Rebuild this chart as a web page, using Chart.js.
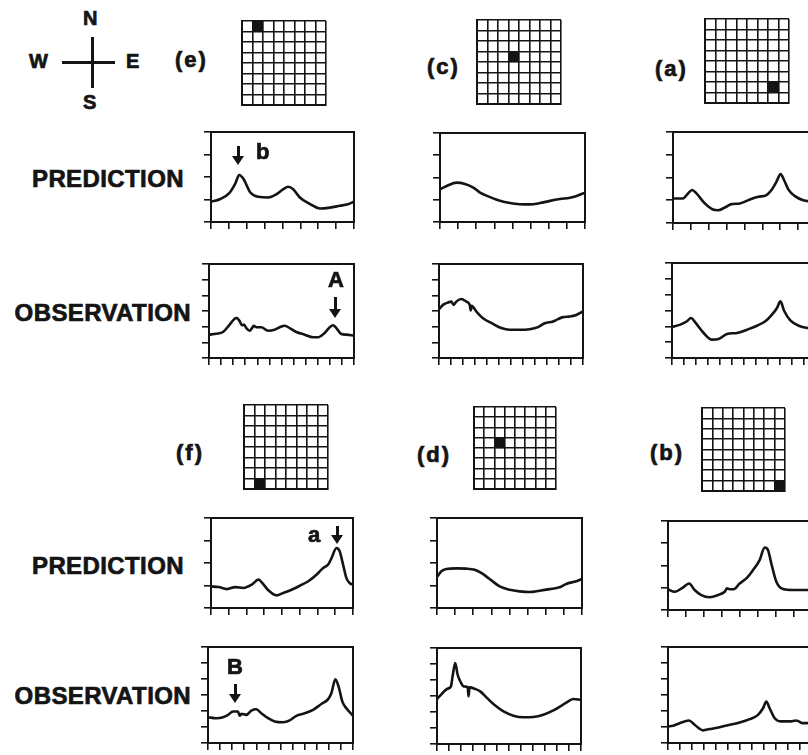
<!DOCTYPE html>
<html>
<head>
<meta charset="utf-8">
<script src="https://cdn.jsdelivr.net/npm/chart.js@4.4.1/dist/chart.umd.min.js"></script>
<style>
  html, body { margin: 0; padding: 0; background: #fff; }
  #page {
    position: relative; width: 808px; height: 755px; overflow: hidden;
    background: #fff; color: #141414;
    font-family: "Liberation Sans", Arial, sans-serif; font-weight: bold;
  }
  #page canvas { position: absolute; }
  .lbl { position: absolute; white-space: nowrap; line-height: 1; -webkit-text-stroke: 0.7px #141414; }
  .bar { position: absolute; background: #141414; }
</style>
</head>
<body>
<div id="page"></div>
<script>
// ================= DATA (x in tick units, y in tick units) =================
// prediction panels: 8 x-intervals, 4 y-intervals
// observation panels: 12 x-intervals, 6 y-intervals
const predE = [[0,0.91],[0.5,1.01],[1.05,1.31],[1.35,1.69],[1.58,2.09],[1.82,1.91],[2.2,1.31],[2.65,1.12],[3.2,1.09],[3.67,1.24],[4.05,1.46],[4.32,1.57],[4.6,1.46],[4.97,1.09],[5.5,0.82],[6.1,0.6],[6.65,0.64],[7.2,0.72],[7.66,0.79],[8,0.9]];
const obsE = [[0,1.49],[0.61,1.55],[1.16,1.66],[1.71,2.13],[2.12,2.51],[2.32,2.55],[2.54,2.34],[2.73,2.09],[2.9,2.13],[3.09,1.91],[3.37,1.74],[3.56,1.91],[3.7,2.06],[3.92,1.96],[4.33,1.96],[4.88,1.74],[5.43,1.81],[5.85,1.96],[6.26,2.06],[6.68,1.91],[7.23,1.66],[7.92,1.49],[8.61,1.32],[9.02,1.32],[9.57,1.6],[9.99,1.96],[10.26,2.09],[10.54,1.91],[10.95,1.53],[11.37,1.49],[12,1.43]];

const predC = [[0,1.47],[0.37,1.62],[0.92,1.77],[1.38,1.71],[1.84,1.55],[2.21,1.32],[2.76,1.12],[3.31,0.95],[3.86,0.85],[4.41,0.8],[4.96,0.79],[5.51,0.85],[6.07,0.95],[6.62,1.03],[7.17,1.09],[7.54,1.17],[8,1.32]];
const obsC = [[0,3.11],[0.33,3.39],[0.75,3.54],[1.03,3.6],[1.22,3.39],[1.44,3.6],[1.86,3.77],[2.28,3.6],[2.56,3.39],[2.64,3.03],[2.72,3.33],[3.11,2.97],[3.67,2.54],[4.5,2.18],[5.19,1.91],[5.89,1.8],[6.72,1.8],[7.56,1.84],[8.25,1.97],[8.81,2.22],[9.5,2.33],[9.92,2.48],[10.33,2.61],[10.89,2.65],[11.44,2.75],[12,2.97]];

const predA = [[0,1.08],[0.56,1.08],[0.84,1.3],[1.07,1.45],[1.31,1.3],[1.78,0.86],[2.24,0.59],[2.52,0.56],[2.9,0.68],[3.27,0.83],[3.74,0.86],[4.3,1.03],[4.77,1.15],[5.23,1.23],[5.51,1.45],[5.79,1.82],[6.02,2.15],[6.21,1.89],[6.45,1.48],[6.82,1.18],[7.29,1.0],[7.55,0.96],[8,0.95]];
const obsA = [[0,1.96],[0.69,2.11],[1.25,2.32],[1.58,2.53],[1.94,2.25],[2.64,1.58],[3.33,1.16],[3.89,1.2],[4.58,1.52],[5.42,1.58],[6.25,1.79],[7.08,2.04],[7.78,2.32],[8.33,2.74],[8.75,3.16],[9.03,3.58],[9.36,2.95],[9.86,2.38],[10.56,2.04],[11.36,1.89],[12,1.85]];

const predF = [[0,0.96],[0.43,0.93],[0.9,0.84],[1.36,0.93],[1.83,0.89],[2.3,1.04],[2.67,1.26],[2.86,1.14],[3.23,0.79],[3.7,0.56],[4.07,0.67],[4.54,0.81],[5.01,0.99],[5.48,1.19],[5.94,1.48],[6.32,1.78],[6.6,1.93],[6.79,2.22],[7.07,2.67],[7.25,2.52],[7.44,1.93],[7.63,1.33],[7.81,1.11],[8,1.04]];
const obsF = [[0,1.61],[0.69,1.55],[1.24,1.61],[1.66,1.76],[2.07,1.97],[2.48,1.97],[2.62,1.7],[2.76,1.82],[3.17,1.76],[3.59,2.03],[4.0,2.11],[4.41,1.86],[4.97,1.55],[5.52,1.35],[6.21,1.3],[6.76,1.41],[7.31,1.7],[8.0,1.86],[8.69,2.07],[9.38,2.44],[9.93,2.73],[10.21,3.11],[10.54,3.98],[10.81,3.52],[11.12,2.59],[11.45,2.17],[12,1.7]];

const predD = [[0,1.38],[0.24,1.63],[0.51,1.73],[1.07,1.76],[1.62,1.75],[2.08,1.7],[2.44,1.56],[2.9,1.29],[3.46,0.96],[4.01,0.81],[4.56,0.74],[5.11,0.71],[5.66,0.77],[6.21,0.84],[6.76,0.92],[7.13,1.07],[7.68,1.19],[8,1.29]];
const obsD = [[0,2.81],[0.42,3.15],[0.83,3.44],[1.16,3.6],[1.3,4.23],[1.52,5.06],[1.72,4.33],[1.94,3.92],[2.22,3.6],[2.55,3.56],[2.63,2.98],[2.71,3.54],[3.19,3.44],[3.6,3.29],[4.16,2.88],[4.85,2.4],[5.54,2.04],[6.37,1.77],[7.2,1.67],[8.03,1.69],[8.86,1.83],[9.7,2.1],[10.39,2.4],[10.94,2.67],[11.36,2.81],[12,2.77]];

const predB = [[0,0.93],[0.37,0.82],[0.83,1.01],[1.17,1.19],[1.48,0.9],[1.85,0.67],[2.31,0.57],[2.78,0.67],[3.15,0.82],[3.28,0.97],[3.46,0.93],[3.65,0.93],[3.98,1.19],[4.35,1.42],[4.72,1.79],[5.09,2.24],[5.37,2.81],[5.56,2.69],[5.74,2.09],[6.02,1.27],[6.39,0.94],[6.94,0.9],[7.69,0.9],[8,0.9]];
const obsB = [[0,1.04],[0.42,1.08],[0.97,1.24],[1.75,1.41],[2.22,1.14],[2.92,0.79],[3.47,0.87],[4.31,0.99],[5.14,1.14],[5.97,1.28],[6.81,1.49],[7.5,1.76],[7.92,2.17],[8.19,2.59],[8.47,2.17],[8.89,1.55],[9.44,1.35],[10.14,1.35],[10.69,1.41],[11.25,1.24],[11.64,1.24],[12,1.2]];

// grid icons: which cell of the 8x8 sensor grid is marked
const panelNames = ["(e)", "(c)", "(a)", "(f)", "(d)", "(b)"];
const cellCol = [1, 3, 6, 1, 2, 7];
const cellRow = [0, 3, 6, 7, 3, 7];

const rowLabels = ["PREDICTION", "OBSERVATION", "PREDICTION", "OBSERVATION"];

// ================= LAYOUT =================
const INK = "#141414";
const TICK = 7;
const PAD = 3;

// plot areas (left, top, width, height)
const PANELS = [
  { pts: predE, nx: 8,  ny: 4, x: 211, y: 132, w: 143, h: 90 },
  { pts: obsE,  nx: 12, ny: 6, x: 209, y: 264, w: 145, h: 94 },
  { pts: predC, nx: 8,  ny: 4, x: 440, y: 133, w: 145, h: 89 },
  { pts: obsC,  nx: 12, ny: 6, x: 439, y: 264, w: 144, h: 94 },
  { pts: predA, nx: 8,  ny: 4, x: 673, y: 132, w: 143, h: 91 },
  { pts: obsA,  nx: 12, ny: 6, x: 672, y: 263, w: 144, h: 95 },
  { pts: predF, nx: 8,  ny: 4, x: 211, y: 518, w: 142, h: 90 },
  { pts: obsF,  nx: 12, ny: 6, x: 208, y: 647, w: 145, h: 96 },
  { pts: predD, nx: 8,  ny: 4, x: 437, y: 518, w: 145, h: 90 },
  { pts: obsD,  nx: 12, ny: 6, x: 437, y: 648, w: 144, h: 96 },
  { pts: predB, nx: 8,  ny: 4, x: 668, y: 521, w: 144, h: 89 },
  { pts: obsB,  nx: 12, ny: 6, x: 668, y: 647, w: 144, h: 96 }
];

const ICONS = [
  { x: 242, y: 21,  s: 84 },
  { x: 477, y: 20,  s: 84 },
  { x: 705, y: 19,  s: 84 },
  { x: 244, y: 405, s: 84 },
  { x: 474, y: 407, s: 82 },
  { x: 702, y: 408, s: 83 }
];
// label boxes for (e) (c) (a) (f) (d) (b)
const NAME_POS = [[175, 49], [427, 56], [655, 58], [176, 442], [417, 444], [650, 442]];
// right edge + baseline of row labels
const ROW_POS = [[184, 187], [191, 321], [184, 574], [191, 704]];

const page = document.getElementById("page");

function addCanvas(left, top, w, h) {
  const c = document.createElement("canvas");
  c.width = w;
  c.height = h;
  c.style.left = left + "px";
  c.style.top = top + "px";
  c.style.width = w + "px";
  c.style.height = h + "px";
  page.appendChild(c);
  return c;
}

function addText(txt, left, top, size, extra) {
  const d = document.createElement("div");
  d.className = "lbl";
  d.textContent = txt;
  d.style.left = left + "px";
  d.style.top = top + "px";
  d.style.fontSize = size + "px";
  if (extra) Object.assign(d.style, extra);
  page.appendChild(d);
  return d;
}

function addBar(left, top, w, h) {
  const d = document.createElement("div");
  d.className = "bar";
  Object.assign(d.style, { left: left + "px", top: top + "px", width: w + "px", height: h + "px" });
  page.appendChild(d);
}

// down arrow: shaft + triangle head
function addArrow(cx, y1, y2) {
  addBar(cx - 1.5, y1, 3, y2 - y1 - 6);
  const h = document.createElement("div");
  Object.assign(h.style, {
    position: "absolute", left: (cx - 6) + "px", top: (y2 - 9) + "px", width: 0, height: 0,
    borderLeft: "6px solid transparent", borderRight: "6px solid transparent",
    borderTop: "9px solid " + INK
  });
  page.appendChild(h);
}

// frame round the plot area (top and right sides too)
const marco = {
  id: "marco",
  afterDraw(chart) {
    const { ctx, chartArea: a } = chart;
    ctx.save();
    ctx.strokeStyle = INK;
    ctx.lineWidth = 2;
    ctx.strokeRect(a.left, a.top, a.right - a.left, a.bottom - a.top);
    ctx.restore();
  }
};

function eje(max) {
  return {
    type: "linear", min: 0, max,
    ticks: { display: false, stepSize: 1 },
    grid: { drawOnChartArea: false, drawTicks: true, tickLength: TICK, color: INK, lineWidth: 1.6 },
    border: { display: true, color: INK, width: 2 }
  };
}

// ================= CURVE PANELS =================
PANELS.forEach(p => {
  const c = addCanvas(p.x - TICK, p.y - PAD, p.w + TICK + PAD, p.h + TICK + PAD);
  new Chart(c, {
    type: "line",
    data: {
      datasets: [{
        data: p.pts.map(([x, y]) => ({ x, y })),
        borderColor: INK,
        borderWidth: 2.6,
        pointRadius: 0,
        cubicInterpolationMode: "monotone",
        fill: false
      }]
    },
    options: {
      responsive: false,
      animation: false,
      devicePixelRatio: 1,
      layout: { autoPadding: false, padding: { top: PAD, right: PAD, left: 0, bottom: 0 } },
      plugins: { legend: { display: false }, tooltip: { enabled: false } },
      scales: { x: eje(p.nx), y: eje(p.ny) }
    },
    plugins: [marco]
  });
});

// ================= GRID ICONS =================
function ejeGrid(rev) {
  return {
    type: "linear", min: 0, max: 8, reverse: rev,
    ticks: { display: false, stepSize: 1 },
    grid: { color: INK, lineWidth: 1.6, drawTicks: false },
    border: { display: true, color: INK, width: 2 }
  };
}

ICONS.forEach((g, i) => {
  const c = addCanvas(g.x - 2, g.y - 2, g.s + 4, g.s + 4);
  new Chart(c, {
    type: "scatter",
    data: {
      datasets: [{
        data: [{ x: cellCol[i] + 0.5, y: cellRow[i] + 0.5 }],
        pointStyle: "rect",
        pointRadius: g.s / 8 * 0.74,
        backgroundColor: INK,
        borderWidth: 0
      }]
    },
    options: {
      responsive: false,
      animation: false,
      devicePixelRatio: 1,
      layout: { autoPadding: false, padding: 2 },
      plugins: { legend: { display: false }, tooltip: { enabled: false } },
      scales: { x: ejeGrid(false), y: ejeGrid(true) }
    }
  });
  addText(panelNames[i], NAME_POS[i][0], NAME_POS[i][1], 22, { letterSpacing: "2px" });
});

// ================= LABELS =================
rowLabels.forEach((t, i) => {
  const d = addText(t, 0, ROW_POS[i][1] - 0.8465 * 24, 24, { letterSpacing: "0.4px" });
  d.style.left = "auto";
  d.style.right = (808 - ROW_POS[i][0]) + "px";
});

// compass
addText("N", 83, 8, 20);
addText("W", 29, 51, 20);
addText("E", 126, 51, 20);
addText("S", 83, 92, 20);
addBar(62, 61, 53, 2.8);
addBar(91, 37, 2.8, 51);

// annotations
addText("b", 256, 141, 22);
addArrow(238, 146, 165);
addText("A", 328, 269, 22);
addArrow(335, 297, 318);
addText("a", 308, 524, 22);
addArrow(337, 526, 544);
addText("B", 227, 656, 22);
addArrow(235, 684, 703);
</script>
</body>
</html>
